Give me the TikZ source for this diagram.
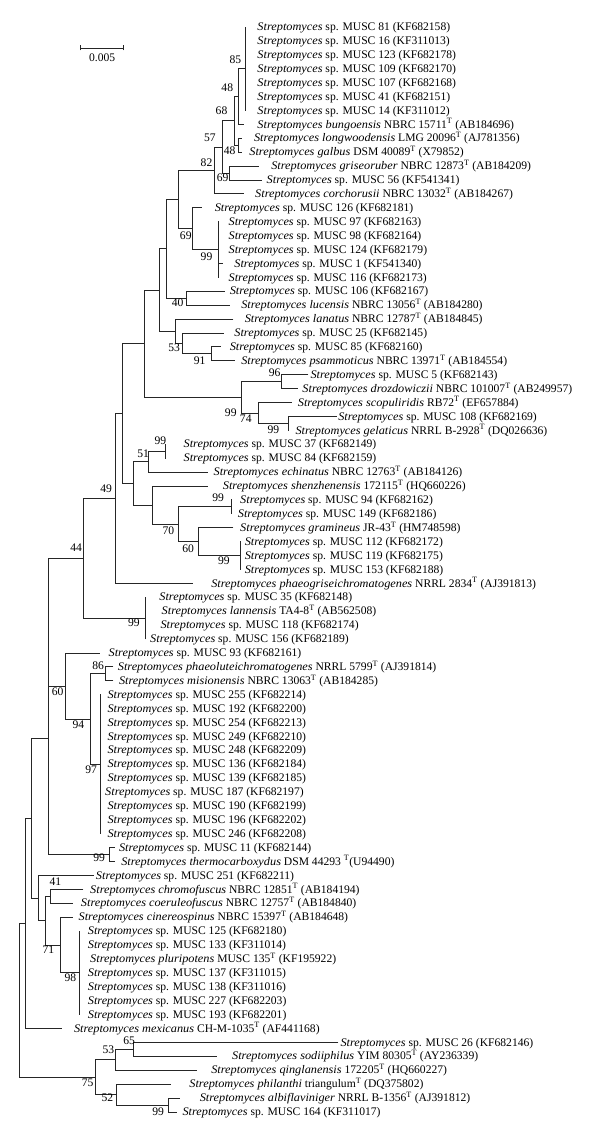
\documentclass[tikz,border=0pt]{standalone}
\usepackage{fontspec}
\setmainfont[ItalicFeatures={FakeStretch=1.06}]{Liberation Serif}
\newcommand{\lbl}{\fontsize{11.6}{13}\selectfont}
\newcommand{\Sp}[1]{\textit{Streptomyces} sp. #1}
\newcommand{\Sn}[2]{\textit{Streptomyces #1} #2}
\newcommand{\Ty}{\textsuperscript{T}}
\begin{document}
\begin{tikzpicture}[x=1.1538pt,y=-1pt,
  br/.style={line width=0.85pt, draw=black!85, line cap=rect},
  lab/.style={anchor=west, inner sep=0pt, text height=7.3pt, text depth=0pt, font=\lbl},
  bs/.style={inner sep=0pt, font=\lbl}]
\fill[white] (0,0) rectangle (520,1141);
\useasboundingbox (0,0) rectangle (520,1141);
% leaf tips
\foreach \i/\x/\y in {1/213/27.0,2/213/40.9,3/213/54.8,4/213/68.7,5/213/82.6,6/213/96.6,7/213/110.5,
 8/211/124.4,9/209/138.3,10/209/152.2,11/224/166.1,12/227/180.0,13/211/193.9,14/175/207.8,
 15/189/221.7,16/189/235.7,17/189/249.6,18/193/263.5,19/189/277.4,20/195/291.3,21/199/305.2,
 22/202/319.1,23/194/333.0,24/191/346.9,25/203/360.8,26/267/374.8,27/258/388.7,28/253/402.6,
 29/292/416.5,30/250/430.4,31/143/444.3,32/143/458.2,33/180/472.1,34/180/486.0,35/201/499.9,
 36/201/513.9,37/202/527.8,38/208/541.7,39/208/555.6,40/208/569.5,41/167/583.4,42/126/597.3,
 43/126/611.2,44/126/625.1,45/126/639.0,46/86/653.0,47/98/666.9,48/98/680.8,49/87/694.7,
 50/87/708.6,51/87/722.5,52/87/736.4,53/87/750.3,54/87/764.2,55/87/778.1,56/87/792.1,
 57/87/806.0,58/87/819.9,59/87/833.8,60/99/847.7,61/99/861.6,62/81/875.5,63/72/889.4,
 64/63/903.3,65/63/917.2,66/69/931.2,67/69/945.1,68/69/959.0,69/69/972.9,70/69/986.8,
 71/69/1000.7,72/69/1014.6,73/53/1028.5,74/293/1042.4,75/188/1056.3,76/170/1070.3,
 77/148/1084.2,78/156/1098.1,79/153/1112.0}
 {\coordinate (L\i) at (\x,\y);}
% internal nodes
\coordinate (N85) at (213,68.75);
\coordinate (N48a) at (207,96.6);
\coordinate (N48b) at (207,145.25);
\coordinate (N68) at (203,120.9);
\coordinate (N69a) at (199,173.05);
\coordinate (N57) at (193,147);
\coordinate (N82) at (186,170.45);
\coordinate (N99a) at (189,249.55);
\coordinate (N69b) at (167,228.7);
\coordinate (Na) at (155,199.6);
\coordinate (N40) at (162,298.25);
\coordinate (Nb) at (144,248.9);
\coordinate (N91) at (183,353.85);
\coordinate (N53) at (158,343.4);
\coordinate (Nc) at (152,331.25);
\coordinate (Nd) at (138,290.1);
\coordinate (N96) at (244,381.75);
\coordinate (N99d) at (250,423.45);
\coordinate (N74) at (224,413);
\coordinate (N99c) at (209,397.4);
\coordinate (Ne) at (125,343.75);
\coordinate (N99e) at (143,451.25);
\coordinate (N51) at (129,461.7);
\coordinate (N99f) at (201,506.9);
\coordinate (N99g) at (208,555.6);
\coordinate (N60) at (172,541.7);
\coordinate (N70) at (155,524.3);
\coordinate (Nf) at (132,505.15);
\coordinate (Ng) at (116,483.4);
\coordinate (Nh) at (106,413.6);
\coordinate (N49) at (100,498.5);
\coordinate (N99h) at (126,618.15);
\coordinate (N44) at (72,558.3);
\coordinate (N86) at (91,673.85);
\coordinate (N97) at (87,764.25);
\coordinate (N94) at (78,719.05);
\coordinate (N60b) at (57,686);
\coordinate (NA) at (42,622.15);
\coordinate (N99i) at (95,854.65);
\coordinate (NB) at (42,738.4);
\coordinate (N41) at (44,896.35);
\coordinate (N98) at (69,972.9);
\coordinate (N71) at (52,945.05);
\coordinate (Ni) at (39,920.7);
\coordinate (Nj) at (33,898.1);
\coordinate (Nk) at (27,818.25);
\coordinate (Nl) at (22,923.4);
\coordinate (N65) at (116,1049.35);
\coordinate (N53b) at (100,1059.8);
\coordinate (N99j) at (146,1105.05);
\coordinate (N52) at (101,1094.6);
\coordinate (N75) at (83,1077.2);
\coordinate (Root) at (17,1000.3);
% branches
\foreach \p/\c in {N85/L1,N85/L2,N85/L3,N85/L4,N85/L5,N85/L6,N85/L7,N48a/N85,N48a/L8,
 N48b/L9,N48b/L10,N68/N48a,N68/N48b,N69a/L11,N69a/L12,N57/N68,N57/N69a,N82/N57,N82/L13,
 N99a/L15,N99a/L16,N99a/L17,N99a/L18,N99a/L19,N69b/L14,N69b/N99a,Na/N82,Na/N69b,
 N40/L20,N40/L21,Nb/Na,Nb/N40,N91/L24,N91/L25,N53/L23,N53/N91,Nc/L22,Nc/N53,Nd/Nb,Nd/Nc,
 N96/L26,N96/L27,N99d/L29,N99d/L30,N74/L28,N74/N99d,N99c/N96,N99c/N74,Ne/Nd,Ne/N99c,
 N99e/L31,N99e/L32,N51/N99e,N51/L33,N99f/L35,N99f/L36,N99g/L38,N99g/L39,N99g/L40,
 N60/L37,N60/N99g,N70/N99f,N70/N60,Nf/L34,Nf/N70,Ng/N51,Ng/Nf,Nh/Ne,Nh/Ng,N49/Nh,N49/L41,
 N99h/L42,N99h/L43,N99h/L44,N99h/L45,N44/N49,N44/N99h,N86/L47,N86/L48,
 N97/L49,N97/L50,N97/L51,N97/L52,N97/L53,N97/L54,N97/L55,N97/L56,N97/L57,N97/L58,N97/L59,
 N94/N86,N94/N97,N60b/L46,N60b/N94,NA/N44,NA/N60b,N99i/L60,N99i/L61,NB/NA,NB/N99i,
 N41/L63,N41/L64,N98/L66,N98/L67,N98/L68,N98/L69,N98/L70,N98/L71,N98/L72,N71/L65,N71/N98,
 Ni/N41,Ni/N71,Nj/L62,Nj/Ni,Nk/NB,Nk/Nj,Nl/Nk,Nl/L73,N65/L74,N65/L75,N53b/N65,N53b/L76,
 N99j/L78,N99j/L79,N52/L77,N52/N99j,N75/N53b,N75/N52,Root/Nl,Root/N75}
 {\draw[br] (\p) |- (\c);}
% labels
\node[lab] (T1) at (223,27.0) {\Sp{MUSC 81 (KF682158)}};
\node[lab] (T2) at (223,40.9) {\Sp{MUSC 16 (KF311013)}};
\node[lab] (T3) at (223,54.8) {\Sp{MUSC 123 (KF682178)}};
\node[lab] (T4) at (223,68.7) {\Sp{MUSC 109 (KF682170)}};
\node[lab] (T5) at (223,82.6) {\Sp{MUSC 107 (KF682168)}};
\node[lab] (T6) at (223,96.6) {\Sp{MUSC 41 (KF682151)}};
\node[lab] (T7) at (223,110.5) {\Sp{MUSC 14 (KF311012)}};
\node[lab] (T8) at (223,124.4) {\Sn{bungoensis}{NBRC 15711\Ty{} (AB184696)}};
\node[lab] (T9) at (220,138.3) {\Sn{longwoodensis}{LMG 20096\Ty{} (AJ781356)}};
\node[lab] (T10) at (216,152.2) {\Sn{galbus}{DSM 40089\Ty{} (X79852)}};
\node[lab] (T11) at (235,166.1) {\Sn{griseoruber}{NBRC 12873\Ty{} (AB184209)}};
\node[lab] (T12) at (231,180.0) {\Sp{MUSC 56 (KF541341)}};
\node[lab] (T13) at (221,193.9) {\Sn{corchorusii}{NBRC 13032\Ty{} (AB184267)}};
\node[lab] (T14) at (186,207.8) {\Sp{MUSC 126 (KF682181)}};
\node[lab] (T15) at (198,221.7) {\Sp{MUSC 97 (KF682163)}};
\node[lab] (T16) at (198,235.7) {\Sp{MUSC 98 (KF682164)}};
\node[lab] (T17) at (198,249.6) {\Sp{MUSC 124 (KF682179)}};
\node[lab] (T18) at (203,263.5) {\Sp{MUSC 1 (KF541340)}};
\node[lab] (T19) at (198,277.4) {\Sp{MUSC 116 (KF682173)}};
\node[lab] (T20) at (199,291.3) {\Sp{MUSC 106 (KF682167)}};
\node[lab] (T21) at (209,305.2) {\Sn{lucensis}{NBRC 13056\Ty{} (AB184280)}};
\node[lab] (T22) at (212,319.1) {\Sn{lanatus}{NBRC 12787\Ty{} (AB184845)}};
\node[lab] (T23) at (203,333.0) {\Sp{MUSC 25 (KF682145)}};
\node[lab] (T24) at (199,346.9) {\Sp{MUSC 85 (KF682160)}};
\node[lab] (T25) at (209,360.8) {\Sn{psammoticus}{NBRC 13971\Ty{} (AB184554)}};
\node[lab] (T26) at (269,374.8) {\Sp{MUSC 5 (KF682143)}};
\node[lab] (T27) at (262,388.7) {\Sn{drozdowiczii}{NBRC 101007\Ty{} (AB249957)}};
\node[lab] (T28) at (258,402.6) {\Sn{scopuliridis}{RB72\Ty{} (EF657884)}};
\node[lab] (T29) at (293,416.5) {\Sp{MUSC 108 (KF682169)}};
\node[lab] (T30) at (256,430.4) {\Sn{gelaticus}{NRRL B-2928\Ty{} (DQ026636)}};
\node[lab] (T31) at (159,444.3) {\Sp{MUSC 37 (KF682149)}};
\node[lab] (T32) at (159,458.2) {\Sp{MUSC 84 (KF682159)}};
\node[lab] (T33) at (185,472.1) {\Sn{echinatus}{NBRC 12763\Ty{} (AB184126)}};
\node[lab] (T34) at (193,486.0) {\Sn{shenzhenensis}{172115\Ty{} (HQ660226)}};
\node[lab] (T35) at (208,499.9) {\Sp{MUSC 94 (KF682162)}};
\node[lab] (T36) at (206,513.9) {\Sp{MUSC 149 (KF682186)}};
\node[lab] (T37) at (208,527.8) {\Sn{gramineus}{JR-43\Ty{} (HM748598)}};
\node[lab] (T38) at (212,541.7) {\Sp{MUSC 112 (KF682172)}};
\node[lab] (T39) at (212,555.6) {\Sp{MUSC 119 (KF682175)}};
\node[lab] (T40) at (212,569.5) {\Sp{MUSC 153 (KF682188)}};
\node[lab] (T41) at (183,583.4) {\Sn{phaeogriseichromatogenes}{NRRL 2834\Ty{} (AJ391813)}};
\node[lab] (T42) at (138,597.3) {\Sp{MUSC 35 (KF682148)}};
\node[lab] (T43) at (140,611.2) {\Sn{lannensis}{TA4-8\Ty{} (AB562508)}};
\node[lab] (T44) at (139,625.1) {\Sp{MUSC 118 (KF682174)}};
\node[lab] (T45) at (130,639.0) {\Sp{MUSC 156 (KF682189)}};
\node[lab] (T46) at (94,653.0) {\Sp{MUSC 93 (KF682161)}};
\node[lab] (T47) at (102,666.9) {\Sn{phaeoluteichromatogenes}{NRRL 5799\Ty{} (AJ391814)}};
\node[lab] (T48) at (103,680.8) {\Sn{misionensis}{NBRC 13063\Ty{} (AB184285)}};
\node[lab] (T49) at (93,694.7) {\Sp{MUSC 255 (KF682214)}};
\node[lab] (T50) at (93,708.6) {\Sp{MUSC 192 (KF682200)}};
\node[lab] (T51) at (93,722.5) {\Sp{MUSC 254 (KF682213)}};
\node[lab] (T52) at (93,736.4) {\Sp{MUSC 249 (KF682210)}};
\node[lab] (T53) at (93,750.3) {\Sp{MUSC 248 (KF682209)}};
\node[lab] (T54) at (93,764.2) {\Sp{MUSC 136 (KF682184)}};
\node[lab] (T55) at (93,778.1) {\Sp{MUSC 139 (KF682185)}};
\node[lab] (T56) at (91,792.1) {\Sp{MUSC 187 (KF682197)}};
\node[lab] (T57) at (93,806.0) {\Sp{MUSC 190 (KF682199)}};
\node[lab] (T58) at (93,819.9) {\Sp{MUSC 196 (KF682202)}};
\node[lab] (T59) at (93,833.8) {\Sp{MUSC 246 (KF682208)}};
\node[lab] (T60) at (103,847.7) {\Sp{MUSC 11 (KF682144)}};
\node[lab] (T61) at (105,861.6) {\Sn{thermocarboxydus}{DSM 44293 \Ty(U94490)}};
\node[lab] (T62) at (83,875.5) {\Sp{MUSC 251 (KF682211)}};
\node[lab] (T63) at (78,889.4) {\Sn{chromofuscus}{NBRC 12851\Ty{} (AB184194)}};
\node[lab] (T64) at (70,903.3) {\Sn{coeruleofuscus}{NBRC 12757\Ty{} (AB184840)}};
\node[lab] (T65) at (68,917.2) {\Sn{cinereospinus}{NBRC 15397\Ty{} (AB184648)}};
\node[lab] (T66) at (76,931.2) {\Sp{MUSC 125 (KF682180)}};
\node[lab] (T67) at (76,945.1) {\Sp{MUSC 133 (KF311014)}};
\node[lab] (T68) at (78,959.0) {\Sn{pluripotens}{MUSC 135\Ty{} (KF195922)}};
\node[lab] (T69) at (76,972.9) {\Sp{MUSC 137 (KF311015)}};
\node[lab] (T70) at (76,986.8) {\Sp{MUSC 138 (KF311016)}};
\node[lab] (T71) at (76,1000.7) {\Sp{MUSC 227 (KF682203)}};
\node[lab] (T72) at (76,1014.6) {\Sp{MUSC 193 (KF682201)}};
\node[lab] (T73) at (64,1028.5) {\Sn{mexicanus}{CH-M-1035\Ty{} (AF441168)}};
\node[lab] (T74) at (295,1042.4) {\Sp{MUSC 26 (KF682146)}};
\node[lab] (T75) at (201,1056.3) {\Sn{sodiiphilus}{YIM 80305\Ty{} (AY236339)}};
\node[lab] (T76) at (183,1070.3) {\Sn{qinglanensis}{172205\Ty{} (HQ660227)}};
\node[lab] (T77) at (164,1084.2) {\Sn{philanthi}{triangulum\Ty{} (DQ375802)}};
\node[lab] (T78) at (173,1098.1) {\Sn{albiflaviniger}{NRRL B-1356\Ty{} (AJ391812)}};
\node[lab] (T79) at (158,1112.0) {\Sp{MUSC 164 (KF311017)}};
% bootstrap values
\foreach \n/\x/\y/\v in {b1/204/60/85,b2/197/88/48,b3/192/111/68,b4/182/138/57,b5/199/151/48,
 b6/179/163/82,b7/193/178/69,b8/161/236/69,b9/179/257/99,b10/154/303/40,b11/151/348/53,
 b12/173/361/91,b13/238/373/96,b14/200/413/99,b15/213/419/74,b16/237/430/99,b17/139/441/99,
 b18/124/454/51,b19/92/489/49,b20/189/498/99,b21/146/531/70,b22/163/549/60,b23/194/561/99,
 b24/66/548/44,b25/116/623/99,b26/85/666/86,b27/50/692/60,b28/68/725/94,b29/79/770/97,
 b30/86/858/99,b31/48/882/41,b32/42/950/71,b33/61/978/98,b34/112/1041/65,b35/94/1050/53,
 b36/76/1083/75,b37/93/1098/52,b38/137/1112/99}
 {\node[bs] (\n) at (\x,\y) {\v};}
% scale bar
\coordinate (S1) at (70,48);
\coordinate (S2) at (107,48);
\draw[br] (S1) -- (S2);
\draw[br] ([yshift=2.5pt]S1) -- ([yshift=-2pt]S1);
\draw[br] ([yshift=2.5pt]S2) -- ([yshift=-2pt]S2);
\node[bs] (sbl) at (88.5,58) {0.005};
\end{tikzpicture}
\end{document}
